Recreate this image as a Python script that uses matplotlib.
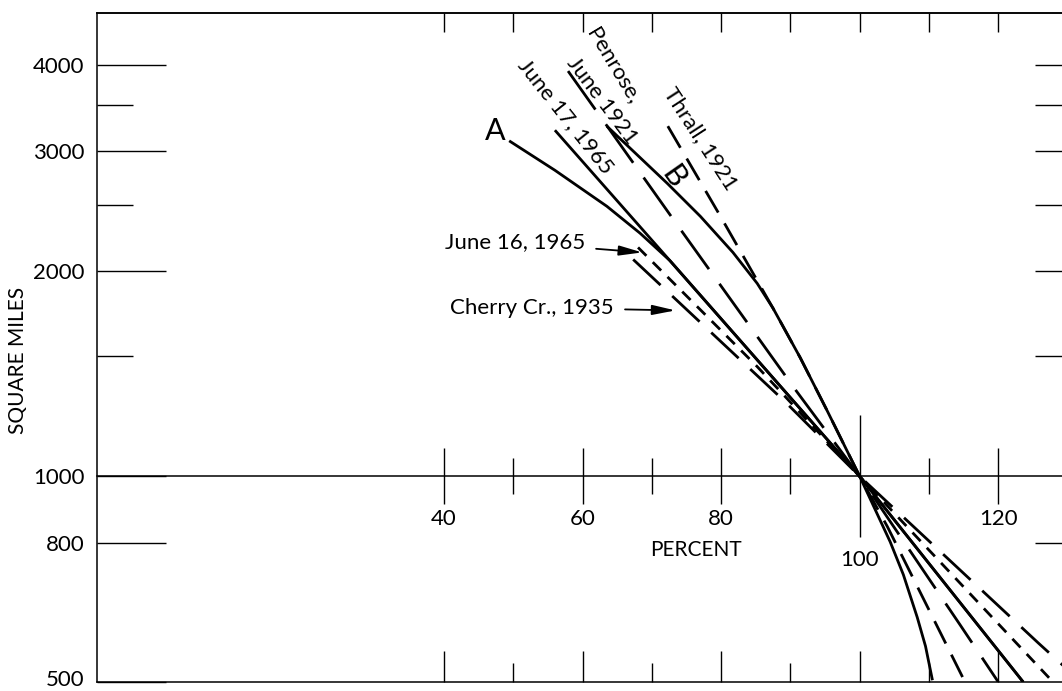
import matplotlib
matplotlib.use("Agg")
import matplotlib.pyplot as plt
from matplotlib.ticker import NullFormatter, FixedLocator
from matplotlib.transforms import ScaledTranslation

plt.rcParams['font.family'] = ['Lato', 'DejaVu Sans']
plt.rcParams['lines.scale_dashes'] = False

# ---------------- data (percent of 1000-sq-mi value, area in sq mi) -------------
a_x = [49.4, 56.0, 63.5, 68.3, 72.6, 100, 123.6]
a_y = [3100, 2807, 2486, 2270, 2070, 1000, 500]
june17_x = [56.0, 72.6, 100, 123.6]
june17_y = [3213, 2070, 1000, 500]
b_x = [63.5, 72.2, 77.0, 81.7, 85.2, 87.5, 91.4, 95.3, 100,
       104.4, 106.3, 108.3, 109.5, 110.5]
b_y = [3257, 2687, 2403, 2128, 1917, 1762, 1493, 1248, 1000,
       802, 718, 622, 564, 503]
penrose_x = [57.9, 73.8, 90.7, 100, 114.5, 120.0]
penrose_y = [3922, 2324, 1340, 1000, 606, 500]
thrall_x = [72.3, 79.9, 87.5, 91.4, 95.3, 100, 104.0, 115.2]
thrall_y = [3257, 2403, 1762, 1493, 1248, 1000, 844, 500]
june16_x = [68.0, 85.2, 100, 127.9]
june16_y = [2164, 1448, 1000, 500]
cherry_x = [67.3, 89.2, 100, 125.8, 129.5]
cherry_y = [2078, 1287, 1000, 570, 527]

y_major = [500, 800, 1000, 2000, 3000, 4000]
y_minor = [1500, 2500, 3500]
right_major = [800, 2000, 3000, 4000]
x_major = [40, 60, 80, 100, 120]
x_minor = [50, 70, 90, 110]
top_ticks = [40, 50, 60, 70, 80, 90, 100, 110, 120]
mid_labeled = [40, 60, 80, 120]
mid_long = [100]

# ---------------- figure ----------------
W, H = 1062, 691
fig = plt.figure(figsize=(W / 100, H / 100), dpi=100)
ax = fig.add_axes([97 / W, (H - 682) / H, (W - 97) / W, (682 - 13) / H])
ax.set_yscale('log')
ax.set_xlim(-10.1, 129.2)
ax.set_ylim(500, 4770)

FS = 16
lw = 2.0
k = dict(color='black', lw=lw, solid_capstyle='butt', dash_capstyle='butt')
ax.plot(a_x, a_y, **k)
ax.plot(june17_x, june17_y, **k)
ax.plot(b_x, b_y, **k)
ax.plot(penrose_x, penrose_y, dashes=(34, 13), **k)
ax.plot(thrall_x, thrall_y, dashes=(18, 9), **k)
ax.plot(june16_x, june16_y, dashes=(8.5, 6.5), **k)
ax.plot(cherry_x, cherry_y, dashes=(27, 11.5), **k)

# spines
ax.spines['right'].set_visible(False)
for s in ['left', 'top', 'bottom']:
    ax.spines[s].set_linewidth(1.1)

# left y ticks
ax.set_yticks(y_major, labels=[str(v) for v in y_major])
ax.yaxis.set_minor_locator(FixedLocator(y_minor))
ax.yaxis.set_minor_formatter(NullFormatter())
ax.tick_params(axis='y', which='major', direction='in', length=50, width=1.0,
               pad=9, labelsize=FS, left=True, right=False)
ax.tick_params(axis='y', which='minor', direction='in', length=26, width=1.0,
               left=True, right=False)
# nudge the bottom label (500) up a little so it stays inside the figure
lab500 = ax.yaxis.get_major_ticks()[0].label1
lab500.set_transform(lab500.get_transform() +
                     ScaledTranslation(0, 3 / 72, fig.dpi_scale_trans))

# bottom x ticks
ax.set_xticks(x_major)
ax.set_xticks(x_minor, minor=True)
ax.tick_params(axis='x', which='major', direction='in', length=22, width=1.0,
               labelbottom=False, top=False)
ax.tick_params(axis='x', which='minor', direction='in', length=14, width=1.0,
               top=False)

# top ticks
sec_top = ax.secondary_xaxis('top')
sec_top.set_xticks(top_ticks)
sec_top.tick_params(direction='in', length=13.7, width=1.0, labeltop=False)
sec_top.spines['top'].set_linewidth(1.1)

# right ticks
sec_r = ax.secondary_yaxis('right')
sec_r.set_ticks(right_major, labels=[''] * len(right_major))
sec_r.yaxis.set_minor_locator(FixedLocator(y_minor))
sec_r.yaxis.set_minor_formatter(NullFormatter())
sec_r.tick_params(which='both', direction='in', length=19.5, width=1.0,
                  labelright=False)
sec_r.spines['right'].set_visible(False)

# middle axis at 1000 sq mi
mid = ax.secondary_xaxis(1000, transform=ax.transData)
mid.set_alignment('bottom')
mid.set_xticks(mid_labeled, labels=[str(v) for v in mid_labeled])
mid.set_xticks(x_minor, minor=True)
mid.tick_params(which='major', direction='inout', length=40, width=1.0,
                pad=3.5, labelsize=FS)
mid.tick_params(which='minor', direction='inout', length=26, width=1.0)
mid.spines['bottom'].set_linewidth(1.1)

mid2 = ax.secondary_xaxis(1000, transform=ax.transData)
mid2.set_alignment('bottom')
mid2.set_xticks(mid_long, labels=[str(v) for v in mid_long])
mid2.tick_params(which='major', direction='inout', length=88, width=1.0,
                 pad=9, labelsize=FS)
mid2.spines['bottom'].set_visible(False)

ax.text(76.4, 781, 'PERCENT', ha='center', va='center', fontsize=15)

# y label
ax.set_ylabel('SQUARE MILES', fontsize=15)
ax.yaxis.set_label_coords(-0.071, 0.48)

# curve labels
ax.text(47.4, 3202, 'A', fontsize=22, ha='center', va='center')
ax.text(73.1, 2741, 'B', fontsize=22, ha='center', va='center', rotation=-55,
        rotation_mode='anchor')
ax.text(57.5, 3368, 'June 17, 1965', fontsize=FS, ha='center', va='center',
        rotation=-51.5, rotation_mode='anchor')
ax.text(64.4, 3988, 'Penrose,', fontsize=FS, ha='center', va='center',
        rotation=-59, rotation_mode='anchor')
ax.text(62.8, 3555, 'June 1921', fontsize=FS, ha='center', va='center',
        rotation=-53, rotation_mode='anchor')
ax.text(77.0, 3127, 'Thrall, 1921', fontsize=FS, ha='center', va='center',
        rotation=-57, rotation_mode='anchor')

arrow = dict(arrowstyle='-|>,head_length=0.7,head_width=0.15', color='black',
             lw=1.3, shrinkA=6, shrinkB=0, mutation_scale=20)
ax.annotate('June 16, 1965', xy=(68.6, 2128), xytext=(40.1, 2201), ha='left',
            va='center', fontsize=FS, arrowprops=arrow)
ax.annotate('Cherry Cr., 1935', xy=(73.4, 1750), xytext=(40.9, 1767), ha='left',
            va='center', fontsize=FS, arrowprops=arrow)

fig.savefig('out.png', dpi=100)
